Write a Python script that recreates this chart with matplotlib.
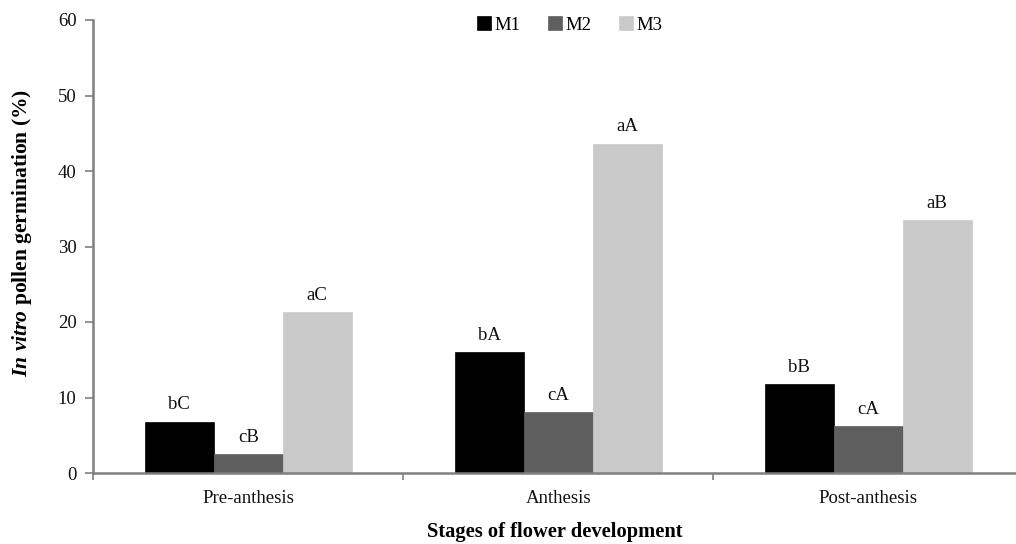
import numpy as np
import matplotlib
matplotlib.use("Agg")
import matplotlib.pyplot as plt

plt.rcParams["font.family"] = ["Liberation Serif", "DejaVu Serif"]
plt.rcParams["mathtext.fontset"] = "custom"
plt.rcParams["mathtext.rm"] = "Liberation Serif:bold"
plt.rcParams["mathtext.bfit"] = "Liberation Serif:italic:bold"
plt.rcParams["mathtext.it"] = "Liberation Serif:italic:bold"

stages = ["Pre-anthesis", "Anthesis", "Post-anthesis"]
series_names = ["M1", "M2", "M3"]
m1 = [6.8, 16.0, 11.8]
m2 = [2.5, 8.1, 6.2]
m3 = [21.3, 43.6, 33.5]
letters_m1 = ["bC", "bA", "bB"]
letters_m2 = ["cB", "cA", "cA"]
letters_m3 = ["aC", "aA", "aB"]
y_ticks = [0, 10, 20, 30, 40, 50, 60]

colors = ["#000000", "#5f5f5f", "#c9c9c9"]
axis_gray = "#7f7f7f"

fig = plt.figure(figsize=(10.16, 5.44), dpi=100)
ax = fig.add_axes([93.3 / 1016, 71 / 544, 930 / 1016, 453 / 544])

x = np.arange(len(stages))
width = 2 / 9
values = [m1, m2, m3]
letters = [letters_m1, letters_m2, letters_m3]
for i, (vals, labs) in enumerate(zip(values, letters)):
    pos = x + (i - 1) * width
    ax.bar(pos, vals, width=width, color=colors[i], edgecolor=colors[i],
           linewidth=0.5, label=series_names[i], zorder=2)
    for px, v, lab in zip(pos, vals, labs):
        ax.annotate(lab, (px, v), xytext=(0, 6), textcoords="offset points",
                    ha="center", va="bottom", fontsize=13.5, color="#111111")

ax.set_xlim(-0.5, 2.5)
ax.set_ylim(0, 60)
ax.set_yticks(y_ticks)
ax.tick_params(axis="y", direction="out", length=6, width=1.2, color=axis_gray,
               labelsize=13.5, labelcolor="#111111", pad=6)

# category boundaries carry the tick marks, category centres carry the labels
ax.set_xticks([-0.5, 0.5, 1.5, 2.5])
ax.set_xticklabels([])
ax.tick_params(axis="x", which="major", direction="out", length=5, width=1.2,
               color=axis_gray)
ax.set_xticks(x, minor=True)
ax.set_xticklabels(stages, minor=True)
ax.tick_params(axis="x", which="minor", length=0, labelsize=13.5,
               labelcolor="#111111", pad=12)

for side in ["top", "right"]:
    ax.spines[side].set_visible(False)
for side in ["left", "bottom"]:
    ax.spines[side].set_color(axis_gray)
    ax.spines[side].set_linewidth(1.8)

ax.set_ylabel(r"$\mathbfit{In\ vitro}$ pollen germination (%)",
              fontsize=15.5, fontweight="bold")
ax.yaxis.set_label_coords(-0.0637, 0.529)
fig.text(555 / 1016, 1 - 532 / 544, "Stages of flower development",
         ha="center", va="center", fontsize=14.8, fontweight="bold")

leg = fig.legend(loc="center", bbox_to_anchor=(570 / 1016, 1 - 25 / 544),
                 ncol=3, frameon=False, fontsize=13.5, handlelength=0.75,
                 handleheight=0.75, handletextpad=0.2, columnspacing=1.45,
                 borderaxespad=0)

fig.savefig("out.png", dpi=100)
